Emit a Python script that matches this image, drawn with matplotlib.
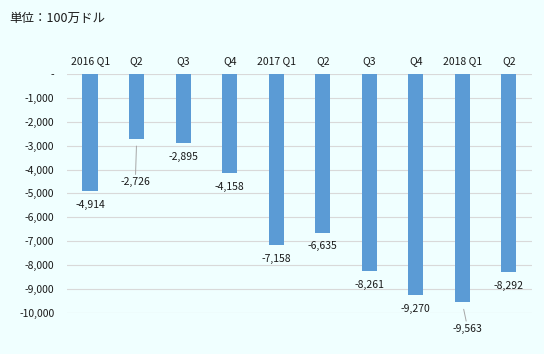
import matplotlib.pyplot as plt

plt.rcParams['font.family'] = ['Noto Sans CJK JP', 'DejaVu Sans']

quarters = ['2016 Q1', 'Q2', 'Q3', 'Q4', '2017 Q1', 'Q2', 'Q3', 'Q4', '2018 Q1', 'Q2']
balance = [-4914, -2726, -2895, -4158, -7158, -6635, -8261, -9270, -9563, -8292]
yticks = [0, -1000, -2000, -3000, -4000, -5000, -6000, -7000, -8000, -9000, -10000]

bg = '#F0FFFF'
txt = '#1a1a1a'

fig = plt.figure(figsize=(5.44, 3.54), dpi=100, facecolor=bg)
ax = fig.add_axes([0.123, 0.116, 0.855, 0.675], facecolor=bg)

x = list(range(len(quarters)))
ax.bar(x, balance, width=0.33, color='#5B9BD5', zorder=3)

ax.set_xlim(-0.5, len(quarters) - 0.5)
ax.set_ylim(-10000, 0)
ax.set_yticks(yticks)
ax.set_yticklabels(['-' if v == 0 else f'{v:,}' for v in yticks])
ax.yaxis.grid(True, color='#D9D9D9', linewidth=0.8, zorder=0)
ax.tick_params(axis='y', length=0, pad=9, labelsize=7.5, labelcolor=txt)

ax.xaxis.tick_top()
ax.set_xticks(x)
ax.set_xticklabels(quarters)
ax.tick_params(axis='x', length=0, pad=6, labelsize=7.5, labelcolor=txt)

for s in ax.spines.values():
    s.set_visible(False)

# label offsets in points; a few are pulled away with a leader line
offsets = {1: (-1, -31), 8: (4, -19)}
for i, v in enumerate(balance):
    dx, dy = offsets.get(i, (0, -10))
    props = None
    if i in offsets:
        props = dict(arrowstyle='-', color='#A6A6A6', lw=0.7, shrinkA=0, shrinkB=5)
    ax.annotate(f'{v:,}', xy=(i, v), xytext=(dx, dy), textcoords='offset points',
                ha='center', va='center', fontsize=7.5, color=txt,
                arrowprops=props, annotation_clip=False)

fig.text(0.018, 0.948, '単位：100万ドル', fontsize=9, color=txt, va='center')

fig.savefig('out.png', dpi=100, facecolor=bg)
